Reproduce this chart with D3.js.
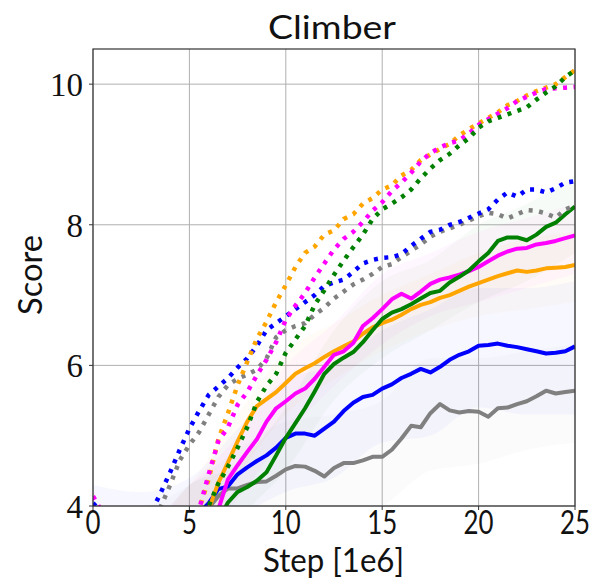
<!DOCTYPE html>
<html>
<head>
<meta charset="utf-8">
<script src="https://cdn.jsdelivr.net/npm/d3@7/dist/d3.min.js"></script>
<style>
  body { margin: 0; background: #fff; }
</style>
</head>
<body>
<div id="chart"></div>
<script>
// ---- data ----
var steps = [0,0.5,1,1.5,2,2.5,3,3.5,4,4.5,5,5.5,6,6.5,7,7.5,8,8.5,9,9.5,10,10.5,11,11.5,12,12.5,
             13,13.5,14,14.5,15,15.5,16,16.5,17,17.5,18,18.5,19,19.5,20,20.5,21,21.5,22,22.5,23,23.5,24,24.5,25];

// solid lines
var grayLine    = [3.5,3.45,3.4,3.35,3.35,3.4,3.45,3.55,3.65,3.75,3.82,3.9,3.97,4.14,4.25,4.25,4.3,4.34,4.35,4.43,4.52,4.57,4.56,4.5,4.42,4.54,
                   4.61,4.61,4.65,4.7,4.7,4.8,4.96,5.14,5.12,5.32,5.45,5.36,5.33,5.35,5.34,5.27,5.39,5.4,5.45,5.49,5.56,5.64,5.6,5.62,5.64];
var blueLine    = [3.7,3.6,3.5,3.45,3.4,3.4,3.45,3.5,3.6,3.7,3.8,3.9,4.04,4.24,4.28,4.45,4.55,4.64,4.72,4.83,4.97,5.03,5.03,5.0,5.1,5.2,
                   5.35,5.47,5.55,5.58,5.67,5.73,5.82,5.88,5.95,5.9,5.98,6.08,6.15,6.2,6.28,6.29,6.31,6.28,6.26,6.23,6.2,6.17,6.18,6.2,6.27];
var orangeLine  = [3.2,3.15,3.1,3.05,3.05,3.1,3.15,3.25,3.4,3.55,3.7,3.85,3.95,4.33,4.62,4.92,5.2,5.42,5.52,5.62,5.75,5.88,5.96,6.03,6.12,6.2,
                   6.27,6.34,6.45,6.54,6.6,6.65,6.72,6.8,6.86,6.9,6.96,7.0,7.06,7.12,7.17,7.22,7.27,7.31,7.35,7.33,7.35,7.38,7.39,7.4,7.43];
var magentaLine = [3.0,2.95,2.9,2.9,2.95,3.0,3.1,3.2,3.35,3.5,3.65,3.8,3.88,3.95,4.38,4.58,4.77,4.95,5.2,5.39,5.49,5.6,5.67,5.81,5.98,6.15,
                   6.2,6.32,6.56,6.67,6.8,6.94,7.02,6.95,7.05,7.16,7.22,7.25,7.29,7.34,7.4,7.48,7.56,7.62,7.66,7.67,7.72,7.74,7.77,7.81,7.85];
var greenLine   = [3.4,3.3,3.2,3.1,3.0,2.95,2.9,2.9,2.95,3.05,3.2,3.4,3.6,3.8,4.05,4.2,4.27,4.36,4.48,4.72,4.97,5.18,5.39,5.63,5.88,6.02,
                   6.11,6.19,6.33,6.5,6.66,6.75,6.8,6.87,6.95,7.03,7.06,7.18,7.26,7.35,7.48,7.6,7.77,7.82,7.82,7.78,7.86,7.97,8.03,8.15,8.26];

// dotted lines
var grayDot     = [3.8,3.7,3.55,3.45,3.45,3.55,3.75,3.98,4.3,4.65,4.87,5.05,5.3,5.55,5.72,5.81,5.87,5.94,6.1,6.4,6.5,6.56,6.6,6.72,6.82,6.95,
                   7.05,7.15,7.22,7.3,7.4,7.44,7.54,7.63,7.72,7.83,7.9,7.95,8.0,8.06,8.12,8.17,8.15,8.09,8.15,8.21,8.2,8.16,8.1,8.22,8.27];
var blueDot     = [4.04,3.9,3.7,3.6,3.6,3.7,3.9,4.18,4.48,4.8,5.1,5.35,5.58,5.7,5.82,5.97,6.1,6.28,6.5,6.6,6.7,6.8,6.9,7.0,7.13,7.18,
                   7.22,7.33,7.45,7.5,7.53,7.54,7.58,7.7,7.8,7.9,7.93,8.0,8.04,8.1,8.16,8.22,8.36,8.46,8.4,8.5,8.5,8.46,8.52,8.6,8.62];
var orangeDot   = [3.5,3.4,3.3,3.2,3.1,3.1,3.2,3.3,3.45,3.65,3.8,3.95,4.38,4.95,5.32,5.72,6.05,6.38,6.62,6.9,7.14,7.4,7.6,7.69,7.86,7.92,
                   8.08,8.15,8.3,8.38,8.5,8.56,8.7,8.78,8.92,9.0,9.08,9.15,9.27,9.36,9.44,9.52,9.6,9.7,9.76,9.84,9.9,9.95,10.0,10.1,10.2];
var magentaDot  = [4.14,3.9,3.6,3.4,3.3,3.2,3.25,3.35,3.5,3.65,3.8,3.95,4.45,4.92,5.12,5.44,5.62,5.86,6.08,6.33,6.65,6.85,7.03,7.25,7.45,7.65,
                   7.8,7.9,8.04,8.2,8.32,8.48,8.6,8.74,8.9,9.02,9.1,9.16,9.2,9.3,9.42,9.5,9.58,9.66,9.76,9.82,9.88,9.93,9.94,9.95,9.96];
var greenDot    = [3.4,3.3,3.2,3.1,3.0,3.0,3.05,3.15,3.3,3.45,3.6,3.75,4.0,4.32,4.56,4.83,5.12,5.48,5.71,5.88,6.18,6.37,6.56,6.86,7.07,7.29,
                   7.49,7.68,7.86,8.08,8.22,8.3,8.39,8.5,8.66,8.8,8.92,9.01,9.13,9.23,9.38,9.47,9.52,9.57,9.62,9.67,9.78,9.88,9.97,10.1,10.2];

// faint spread bands round the solid lines
var bandSteps  = [0,2.5,5,7.5,10,12.5,15,17.5,20,22.5,25];
var grayLo     = [2.9,2.7,2.9,3.7,3.9,3.8,4.0,4.5,4.6,4.8,4.9];
var grayHi     = [4.0,4.0,4.3,4.8,5.2,5.3,5.5,6.1,6.1,6.2,6.3];
var blueLo     = [3.2,2.9,3.1,3.8,4.2,4.4,4.9,5.0,5.4,5.3,5.3];
var blueHi     = [4.3,4.2,4.4,5.1,5.8,6.0,6.5,6.8,7.1,7.1,7.2];
var orangeLo   = [2.6,2.6,3.2,4.4,5.3,5.8,6.2,6.5,6.7,6.8,6.9];
var orangeHi   = [3.8,3.7,4.3,5.3,6.2,6.6,7.0,7.3,7.6,7.8,7.9];
var magentaLo  = [2.4,2.5,3.3,4.1,5.0,5.7,6.3,6.7,6.9,7.1,7.3];
var magentaHi  = [3.6,3.7,4.3,5.0,6.0,6.6,7.3,7.6,7.9,8.1,8.3];
var greenLo    = [2.8,2.4,2.9,3.8,4.5,5.5,6.1,6.5,6.9,7.2,7.6];
var greenHi    = [4.0,3.6,4.3,4.6,5.4,6.5,7.2,7.5,8.0,8.3,8.7];

var xTicks = [0, 5, 10, 15, 20, 25];
var yTicks = [4, 6, 8, 10];

// ---- chart ----
var width = 593;
var height = 585;
var margin = {top: 49, right: 18, bottom: 79, left: 93};
var w = width - margin.left - margin.right;
var h = height - margin.top - margin.bottom;

var svg = d3.select("#chart")
    .append("svg")
    .attr("width", width)
    .attr("height", height)
    .style("font-family", "Lato, 'DejaVu Sans', sans-serif");

var g = svg.append("g")
    .attr("transform", "translate(" + margin.left + "," + margin.top + ")");

var x = d3.scaleLinear().domain([0, 25]).range([0, w]);
var y = d3.scaleLinear().domain([4, 10.5]).range([h, 0]);

g.append("clipPath").attr("id", "plotclip")
  .append("rect").attr("width", w).attr("height", h);

// grid
g.append("g").selectAll("line").data(xTicks).enter().append("line")
    .attr("x1", function(d){ return x(d); }).attr("x2", function(d){ return x(d); })
    .attr("y1", 0).attr("y2", h)
    .attr("stroke", "#b0b0b0").attr("stroke-width", 1);
g.append("g").selectAll("line").data(yTicks).enter().append("line")
    .attr("y1", function(d){ return y(d); }).attr("y2", function(d){ return y(d); })
    .attr("x1", 0).attr("x2", w)
    .attr("stroke", "#b0b0b0").attr("stroke-width", 1);

var plot = g.append("g").attr("clip-path", "url(#plotclip)");

var bands = [
    {lo: grayLo, hi: grayHi, color: "gray"},
    {lo: blueLo, hi: blueHi, color: "blue"},
    {lo: orangeLo, hi: orangeHi, color: "orange"},
    {lo: magentaLo, hi: magentaHi, color: "magenta"},
    {lo: greenLo, hi: greenHi, color: "green"}
];

var area = d3.area()
    .x(function(d, i){ return x(bandSteps[i]); })
    .y0(function(d){ return y(d[0]); })
    .y1(function(d){ return y(d[1]); })
    .curve(d3.curveMonotoneX);

plot.selectAll(".band").data(bands).enter().append("path")
    .attr("class", "band")
    .attr("d", function(b){ return area(d3.zip(b.lo, b.hi)); })
    .attr("fill", function(b){ return b.color; })
    .attr("fill-opacity", 0.03)
    .attr("stroke", "none");

var solid = [
    {values: grayLine, color: "#808080"},
    {values: blueLine, color: "#0000ff"},
    {values: orangeLine, color: "#ffa500"},
    {values: magentaLine, color: "#ff00ff"},
    {values: greenLine, color: "#008000"}
];
var dotted = [
    {values: grayDot, color: "#808080"},
    {values: blueDot, color: "#0000ff"},
    {values: orangeDot, color: "#ffa500"},
    {values: magentaDot, color: "#ff00ff"},
    {values: greenDot, color: "#008000"}
];

var line = d3.line()
    .x(function(d, i){ return x(steps[i]); })
    .y(function(d){ return y(d); });

plot.selectAll(".solid").data(solid).enter().append("path")
    .attr("class", "solid")
    .attr("d", function(s){ return line(s.values); })
    .attr("fill", "none")
    .attr("stroke", function(s){ return s.color; })
    .attr("stroke-width", 4)
    .attr("stroke-linejoin", "round");

plot.selectAll(".dotted").data(dotted).enter().append("path")
    .attr("class", "dotted")
    .attr("d", function(s){ return line(s.values); })
    .attr("fill", "none")
    .attr("stroke", function(s){ return s.color; })
    .attr("stroke-width", 4.5)
    .attr("stroke-dasharray", "4,6.5");

// frame
g.append("rect")
    .attr("width", w).attr("height", h)
    .attr("fill", "none").attr("stroke", "#333").attr("stroke-width", 1.2);

// ticks
g.append("g").selectAll("line").data(xTicks).enter().append("line")
    .attr("x1", function(d){ return x(d); }).attr("x2", function(d){ return x(d); })
    .attr("y1", h).attr("y2", h + 4)
    .attr("stroke", "#333").attr("stroke-width", 1);
g.append("g").selectAll("line").data(yTicks).enter().append("line")
    .attr("y1", function(d){ return y(d); }).attr("y2", function(d){ return y(d); })
    .attr("x1", -4).attr("x2", 0)
    .attr("stroke", "#333").attr("stroke-width", 1);

g.append("g").selectAll("text").data(xTicks).enter().append("text")
    .attr("x", function(d){ return x(d); })
    .attr("y", h + 28)
    .attr("text-anchor", "middle")
    .attr("font-size", 32)
    .attr("textLength", function(d){ return String(d).length * 15; })
    .attr("lengthAdjust", "spacingAndGlyphs")
    .attr("fill", "#111")
    .text(function(d){ return d; });

g.append("g").selectAll("text").data(yTicks).enter().append("text")
    .attr("x", -10)
    .attr("y", function(d){ return y(d) + 12; })
    .attr("text-anchor", "end")
    .attr("font-size", 33)
    .attr("font-family", "'Liberation Serif', 'DejaVu Serif', serif")
    .attr("fill", "#111")
    .text(function(d){ return d; });

// labels
svg.append("text")
    .attr("x", 332).attr("y", 39)
    .attr("text-anchor", "middle")
    .attr("font-size", 33)
    .attr("textLength", 128)
    .attr("lengthAdjust", "spacingAndGlyphs")
    .attr("fill", "#111")
    .text("Climber");

svg.append("text")
    .attr("x", 333.5).attr("y", 572)
    .attr("text-anchor", "middle")
    .attr("font-size", 33)
    .attr("textLength", 141)
    .attr("lengthAdjust", "spacingAndGlyphs")
    .attr("fill", "#111")
    .text("Step [1e6]");

svg.append("text")
    .attr("transform", "translate(42,275) rotate(-90)")
    .attr("text-anchor", "middle")
    .attr("font-size", 33)
    .attr("textLength", 80)
    .attr("lengthAdjust", "spacingAndGlyphs")
    .attr("fill", "#111")
    .text("Score");
</script>
</body>
</html>
